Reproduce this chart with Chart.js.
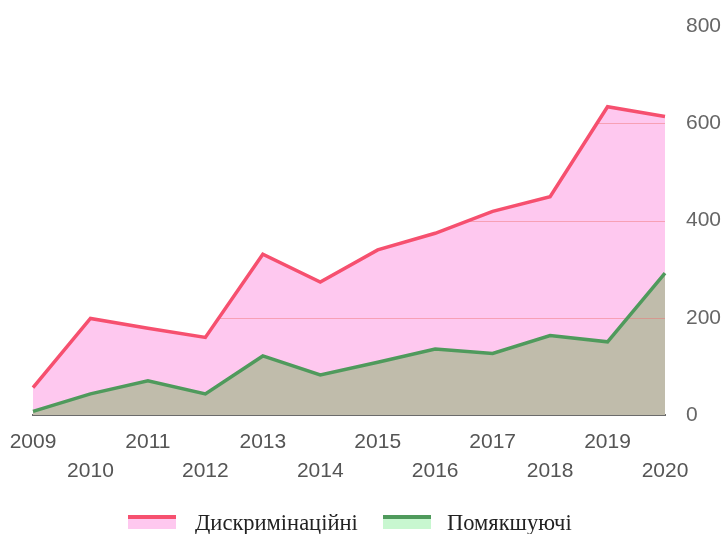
<!DOCTYPE html>
<html>
<head>
<meta charset="utf-8">
<script src="https://cdn.jsdelivr.net/npm/chart.js@4.4.1/dist/chart.umd.min.js"></script>
<style>
    html, body { margin: 0; padding: 0; background: #fff; }
    #wrap { position: relative; width: 725px; height: 534px; }
    #legend {
        position: absolute; left: 0; top: 510px; width: 725px;
        font-family: "Liberation Serif", "DejaVu Serif", serif; font-size: 22.5px; color: #222;
    }
    .item { position: absolute; top: 0; height: 26px; line-height: 26px; white-space: nowrap; }
    .swatch { position: absolute; top: 8px; width: 48px; height: 11px; }
    .swatch span { position: absolute; left: 0; top: -3px; width: 48px; height: 4px; }
</style>
</head>
<body>
<div id="wrap">
    <canvas id="chart"></canvas>
    <div id="legend">
        <div class="item" style="left:128px">
            <div class="swatch" style="background:#fec8ef"><span style="background:#f6506f"></span></div>
            <div style="position:absolute;left:67px">Дискримінаційні</div>
        </div>
        <div class="item" style="left:383px">
            <div class="swatch" style="background:#c8f7d0"><span style="background:#4f9a5c"></span></div>
            <div style="position:absolute;left:64px">Помякшуючі</div>
        </div>
    </div>
</div>
<script>
// Data
const years = ['2009', '2010', '2011', '2012', '2013', '2014', '2015', '2016', '2017', '2018', '2019', '2020'];
const discriminatory = [57, 199, 179, 160, 331, 274, 340, 374, 419, 449, 634, 614];
const mitigating = [8, 44, 71, 44, 122, 83, 109, 136, 127, 164, 151, 292];
const yTicks = [0, 200, 400, 600, 800];

// grid lines that only show on top of the filled areas
const gridOverFill = {
    id: 'gridOverFill',
    beforeDatasetsDraw(chart) {
        const ctx = chart.ctx;
        const area = chart.chartArea;
        const y = chart.scales.y;
        ctx.save();
        ctx.globalCompositeOperation = 'source-atop';
        ctx.strokeStyle = 'rgba(240, 110, 110, 0.45)';
        ctx.lineWidth = 1;
        yTicks.slice(1).forEach(v => {
            const py = Math.round(y.getPixelForValue(v)) + 0.5;
            ctx.beginPath();
            ctx.moveTo(area.left, py);
            ctx.lineTo(area.right, py);
            ctx.stroke();
        });
        ctx.restore();
    }
};

const ctx = document.getElementById('chart').getContext('2d');
new Chart(ctx, {
    type: 'line',
    data: {
        labels: years,
        datasets: [
            {
                label: 'Дискримінаційні',
                data: discriminatory,
                borderColor: '#f6506f',
                backgroundColor: '#fec8ef',
                borderWidth: 3.5,
                pointRadius: 0,
                tension: 0,
                fill: '+1'
            },
            {
                label: 'Помякшуючі',
                data: mitigating,
                borderColor: '#4f9a5c',
                backgroundColor: '#c8f7d0',
                borderWidth: 3.5,
                pointRadius: 0,
                tension: 0,
                fill: { target: 'origin', above: '#c0bcab' }
            }
        ]
    },
    options: {
        responsive: true,
        maintainAspectRatio: false,
        animation: false,
        layout: { padding: { left: 33, top: 26, right: 0, bottom: 36 } },
        plugins: {
            legend: { display: false },
            tooltip: { enabled: false },
            filler: { drawTime: 'beforeDatasetsDraw' }
        },
        scales: {
            x: {
                afterFit: axis => { axis.paddingLeft = 0; axis.paddingRight = 0; },
                grid: { display: false, drawTicks: false },
                border: { display: true, color: '#6b6b6b', width: 2 },
                ticks: {
                    autoSkip: false,
                    maxRotation: 0,
                    minRotation: 0,
                    padding: 13,
                    color: '#555',
                    font: { family: '"Liberation Sans", Arial, sans-serif', size: 21, lineHeight: 1.35 },
                    // staggered labels: every second year on a second row
                    callback: function(value, index) {
                        const label = years[index];
                        return index % 2 === 0 ? [label] : ['', label];
                    }
                }
            },
            y: {
                position: 'right',
                min: 0,
                max: 800,
                afterBuildTicks: axis => { axis.ticks = yTicks.map(v => ({ value: v })); },
                afterFit: axis => { axis.width = 60; axis.paddingTop = 0; axis.paddingBottom = 0; },
                grid: { display: false, drawTicks: false },
                border: { display: false },
                ticks: {
                    padding: 21,
                    color: '#666',
                    font: { family: '"Liberation Sans", Arial, sans-serif', size: 21 }
                }
            }
        }
    },
    plugins: [gridOverFill]
});
</script>
</body>
</html>
